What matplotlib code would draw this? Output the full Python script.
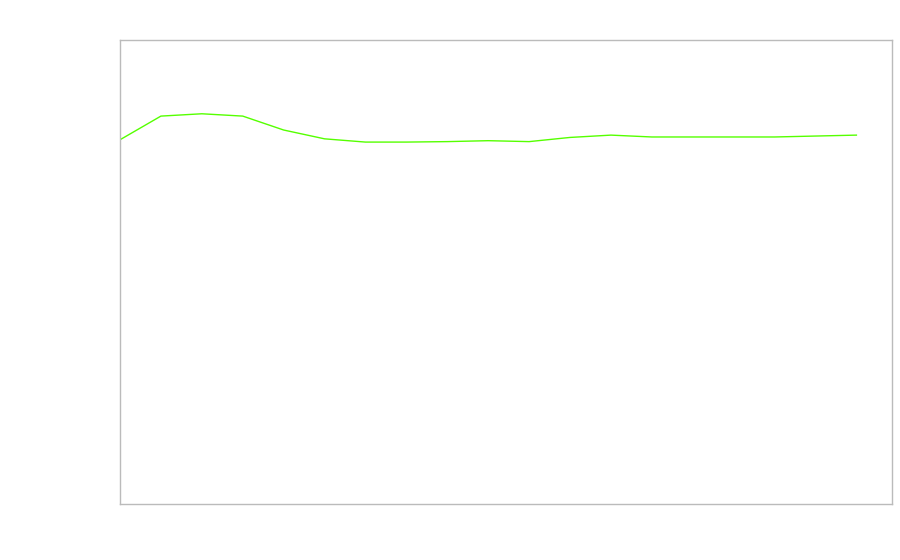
import matplotlib
matplotlib.use("Agg")
import matplotlib.pyplot as plt

# values (0-100 scale, no labels shown)
x_index = list(range(19))
values = [78.5, 83.6, 84.1, 83.6, 80.6, 78.7, 78.0, 78.0, 78.1, 78.3, 78.1,
          79.0, 79.5, 79.1, 79.1, 79.1, 79.1, 79.3, 79.5]

fig = plt.figure(figsize=(9, 5.6), dpi=100)
ax = fig.add_axes([120 / 900, 56 / 560, 772 / 900, 464 / 560])

ax.plot(x_index, values, color="#55ff00", linewidth=1)

ax.set_xlim(0, 18.87)
ax.set_ylim(0, 100)
ax.set_xticks([])
ax.set_yticks([])
for sp in ax.spines.values():
    sp.set_color("#bbbbbb")
    sp.set_linewidth(1)

fig.savefig("out.png", dpi=100)
